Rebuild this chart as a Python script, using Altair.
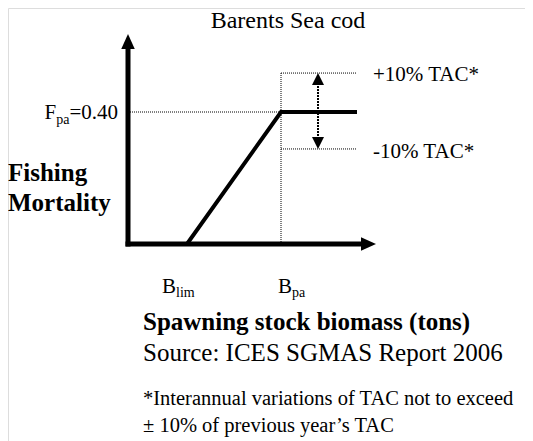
import altair as alt
import pandas as pd

# ---------------- values (schematic units) ----------------
# biomass axis: arbitrary schematic units (origin = 0)
B_LIM = 59
B_PA = 153
B_END = 229          # end of the flat F segment / TAC band lines
B_AXIS_END = 248     # tip of the x-axis arrow
B_TAC_ARROW = 190    # position of the +/-10 % double arrow
# fishing mortality axis
F_PA = 0.40
F_TAC_UP = 0.518
F_TAC_DOWN = 0.288
F_AXIS_END = 0.636   # tip of the y-axis arrow

hcr_b = [0, B_LIM, B_PA, B_END]
hcr_f = [0, 0, F_PA, F_PA]

title_text = "Barents Sea cod"
y_label = ["Fishing", "Mortality"]
x_label = "Spawning stock biomass (tons)"
source_text = "Source: ICES SGMAS Report 2006"
footnote = ["*Interannual variations of TAC not to exceed", "\u00b1 10% of previous year\u2019s TAC"]
tac_labels = ["+10% TAC*", "-10% TAC*"]
f_label = ["F", "pa", "=0.40"]
blim_label = ["B", "lim"]
bpa_label = ["B", "pa"]

# ---------------- scales (1 biomass unit = 1 px, 330 px per unit of F) ----------------
W, H = 517, 433
PX_F = 330.0
ORIGIN_X, ORIGIN_Y = 120, 236   # origin position inside the drawing area
xscale = alt.Scale(domain=[-ORIGIN_X, W - ORIGIN_X], nice=False, zero=False)
yscale = alt.Scale(domain=[(ORIGIN_Y - H) / PX_F, ORIGIN_Y / PX_F], nice=False, zero=False)
HEAD_B = 15
HEAD_F = 15 / PX_F

def enc():
    return dict(x=alt.X("b:Q", scale=xscale, axis=None), y=alt.Y("f:Q", scale=yscale, axis=None))

def rules(df, **mark):
    return alt.Chart(df).mark_rule(color="black", **mark).encode(**enc(), x2="b2:Q", y2="f2:Q")

# dotted guide lines
guides = pd.DataFrame({
    "b": [0, B_PA, B_PA, B_PA],
    "f": [F_PA, 0, F_TAC_UP, F_TAC_DOWN],
    "b2": [B_PA, B_PA, B_END, B_END],
    "f2": [F_PA, F_TAC_UP, F_TAC_UP, F_TAC_DOWN],
})
guide_layer = rules(guides, strokeWidth=1, strokeDash=[1, 1])

# double arrow shaft (dotted)
shaft = pd.DataFrame({"b": [B_TAC_ARROW], "f": [F_TAC_DOWN + 0.03], "b2": [B_TAC_ARROW], "f2": [F_TAC_UP - 0.03]})
shaft_layer = rules(shaft, strokeWidth=2, strokeDash=[2, 1])

# axes shafts
axes = pd.DataFrame({
    "b": [0, 0], "f": [0, 0],
    "b2": [B_AXIS_END - HEAD_B + 2, 0], "f2": [0, F_AXIS_END - HEAD_F + 0.006],
})
axes_layer = rules(axes, strokeWidth=5, strokeCap="square")

# harvest control rule
hcr = pd.DataFrame({"b": hcr_b, "f": hcr_f, "o": range(len(hcr_b))})
hcr_layer = alt.Chart(hcr).mark_line(color="black", strokeWidth=4, strokeJoin="miter").encode(
    **enc(), order="o:O")

UP = "M0,0L-0.45,1L0.45,1Z"
UP_SMALL = "M0,0L-0.5,1L0.5,1Z"
DOWN = "M0,0L-0.5,-1L0.5,-1Z"
RIGHT = "M0,0L-1,-0.45L-1,0.45Z"

def head(b, f, shape, size):
    df = pd.DataFrame({"b": [b], "f": [f]})
    return alt.Chart(df).mark_point(shape=shape, size=size, filled=True, color="black",
                                    opacity=1, strokeWidth=0).encode(**enc())

heads = [
    head(0, F_AXIS_END, UP, 900),
    head(B_AXIS_END, 0, RIGHT, 900),
    head(B_TAC_ARROW, F_TAC_UP, UP_SMALL, 576),
    head(B_TAC_ARROW, F_TAC_DOWN, DOWN, 576),
]

def px_f(page_y):
    # page baseline (px from top of page) -> F units
    return (ORIGIN_Y + 8 - page_y) / PX_F

def texts(rows, size, weight="normal", align="left"):
    df = pd.DataFrame(rows, columns=["t", "b", "f"])
    return alt.Chart(df).mark_text(font="Liberation Serif", fontSize=size, fontWeight=weight,
                                   align=align, baseline="alphabetic", color="black").encode(
        **enc(), text="t:N")

text_layers = [
    texts([[title_text, 160, px_f(28)]], 24, align="center"),
    texts([[f_label[2], -10, px_f(119)]], 21, align="right"),
    texts([[f_label[1], -58.6, px_f(124)]], 14, align="right"),
    texts([[f_label[0], -71.8, px_f(119)]], 21, align="right"),
    texts([[y_label[0], -120, px_f(181)], [y_label[1], -120, px_f(211)]], 25, weight="bold"),
    texts([[blim_label[0], B_LIM - 25, px_f(293)], [bpa_label[0], B_PA - 3, px_f(293)]], 21),
    texts([[blim_label[1], B_LIM - 11, px_f(297)], [bpa_label[1], B_PA + 11, px_f(297)]], 14),
    texts([[tac_labels[0], 245, px_f(81)], [tac_labels[1], 245, px_f(158)]], 21),
    texts([[x_label, 15, px_f(330)]], 25, weight="bold"),
    texts([[source_text, 15, px_f(361)]], 25),
    texts([[footnote[0], 15, px_f(405)], [footnote[1], 15, px_f(432)]], 20.5),
]

chart = alt.layer(guide_layer, shaft_layer, axes_layer, hcr_layer, *heads, *text_layers).properties(
    width=W, height=H, padding=0, autosize=alt.AutoSizeParams(type="none")
).configure_view(strokeWidth=0).configure(background="white")

chart.save("out.html", embed_options={"renderer": "svg", "actions": False})
